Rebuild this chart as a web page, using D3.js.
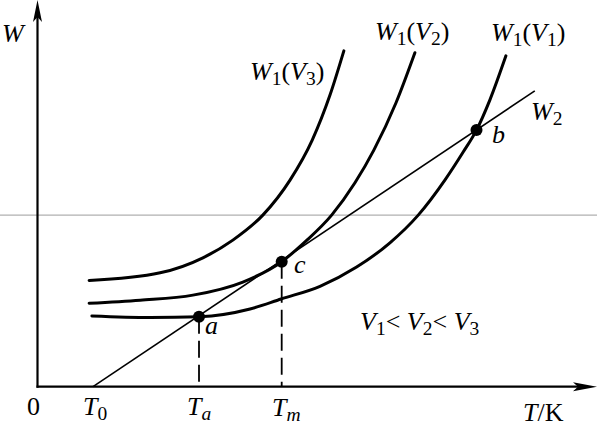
<!DOCTYPE html>
<html><head><meta charset="utf-8">
<script src="https://cdn.jsdelivr.net/npm/d3@7"></script>
<style>
html,body{margin:0;padding:0;background:#fff;}
svg{display:block;}
</style></head>
<body>
<script>
// ---- data (T units, W units) ----
const v1T = [0.98, 2.03, 2.92, 3.83, 4.39, 5.09, 5.75, 6.35, 6.86, 7.34, 7.67, 7.91, 8.15, 8.44];
const v1W = [1.84, 1.80, 1.82, 2.02, 2.28, 2.61, 3.11, 3.74, 4.46, 5.37, 6.10, 6.67, 7.45, 8.60];
const v2T = [0.93, 1.85, 2.80, 3.70, 4.40, 4.84, 5.30, 5.72, 6.06, 6.46, 6.80];
const v2W = [2.17, 2.25, 2.38, 2.72, 3.25, 3.79, 4.46, 5.30, 6.15, 7.38, 8.68];
const v3T = [0.93, 2.21, 2.98, 3.52, 4.06, 4.55, 4.95, 5.27, 5.52];
const v3W = [2.76, 2.96, 3.35, 3.81, 4.46, 5.37, 6.41, 7.58, 8.73];
const w2T = [1.0, 8.96];
const w2W = [0.0, 7.69];
const pointNames = ["a", "c", "b"];
const pointT = [2.91, 4.40, 7.91];
const pointW = [1.82, 3.25, 6.67];
const dropNames = ["a", "c"];
const guideW = 4.46;

const FONT = "'Liberation Serif', 'Times New Roman', serif";
const W = 597, H = 427;
const x = d3.scaleLinear().domain([0, 10]).range([37.5, 592.5]);
const y = d3.scaleLinear().domain([0, 10]).range([386.7, 2]);

const svg = d3.select("body").append("svg").attr("width", W).attr("height", H);

// faint gray horizontal guide line
svg.append("line").attr("x1", 0).attr("x2", W)
  .attr("y1", y(guideW)).attr("y2", y(guideW))
  .attr("stroke", "#b0b0b0").attr("stroke-width", 1.3);

// axes
const x0 = x(0), y0 = y(0);
svg.append("line").attr("x1", x0).attr("x2", x0).attr("y1", y0 + 1).attr("y2", 10)
  .attr("stroke", "#000").attr("stroke-width", 2.2);
svg.append("line").attr("x1", x0 - 1).attr("x2", 585).attr("y1", y0).attr("y2", y0)
  .attr("stroke", "#000").attr("stroke-width", 2.2);
// arrowheads
svg.append("path").attr("d", `M${x0},0 L${x0 + 4.5},22 L${x0},17 L${x0 - 4.5},22 Z`).attr("fill", "#000");
svg.append("path").attr("d", `M597,${y0} L573,${y0 - 4.5} L578,${y0} L573,${y0 + 4.5} Z`).attr("fill", "#000");

// curves
const line = d3.line().x(d => x(d[0])).y(d => y(d[1])).curve(d3.curveMonotoneX);
[[v1T, v1W], [v2T, v2W], [v3T, v3W]].forEach(([ts, ws]) => {
  svg.append("path").datum(ts.map((t, i) => [t, ws[i]]))
    .attr("d", line).attr("fill", "none").attr("stroke", "#000")
    .attr("stroke-width", 3).attr("stroke-linecap", "round");
});

// W2 line
svg.append("path").datum(w2T.map((t, i) => [t, w2W[i]]))
  .attr("d", d3.line().x(d => x(d[0])).y(d => y(d[1])))
  .attr("fill", "none").attr("stroke", "#000").attr("stroke-width", 1.6);

// dashed drop lines
dropNames.forEach(n => {
  const i = pointNames.indexOf(n);
  svg.append("line").attr("x1", x(pointT[i])).attr("x2", x(pointT[i]))
    .attr("y1", y(pointW[i])).attr("y2", y0)
    .attr("stroke", "#000").attr("stroke-width", 1.8).attr("stroke-dasharray", "17,7");
});

// points
pointNames.forEach((n, i) => {
  svg.append("circle").attr("cx", x(pointT[i])).attr("cy", y(pointW[i])).attr("r", 6).attr("fill", "#000");
});

// text helper: parts = [[text, italic, sub]]
function label(px, py, parts, size) {
  size = size || 26;
  const t = svg.append("text").attr("x", px).attr("y", py)
    .attr("font-size", size).style("font-family", FONT).attr("fill", "#000");
  let shifted = false;
  parts.forEach(([s, it, sub]) => {
    const sp = t.append("tspan").text(s).style("font-style", it ? "italic" : "normal").style("font-family", FONT);
    if (sub && !shifted) { sp.attr("dy", 5).attr("font-size", size * 0.75); shifted = true; }
    else if (sub) { sp.attr("font-size", size * 0.75); }
    else if (shifted) { sp.attr("dy", -5); shifted = false; }
  });
  return t;
}

label(2, 42, [["W", true]]);
label(250, 80, [["W", true], ["1", false, true], ["(", false], ["V", true], ["3", false, true], [")", false]]);
label(375, 40, [["W", true], ["1", false, true], ["(", false], ["V", true], ["2", false, true], [")", false]]);
label(491, 41, [["W", true], ["1", false, true], ["(", false], ["V", true], ["1", false, true], [")", false]]);
label(531, 120, [["W", true], ["2", false, true]]);
label(492, 143, [["b", true]]);
label(294, 273, [["c", true]]);
label(205, 334, [["a", true]]);
label(360, 330, [["V", true], ["1", false, true], ["< ", false], ["V", true], ["2", false, true], ["< ", false], ["V", true], ["3", false, true]]);
label(27, 415, [["0", false]]);
label(83, 415, [["T", true], ["0", false, true]]);
label(187, 415, [["T", true], ["a", true, true]]);
label(272, 416, [["T", true], ["m", true, true]]);
label(523, 421, [["T", true], ["/K", false]]);
</script>
</body></html>
